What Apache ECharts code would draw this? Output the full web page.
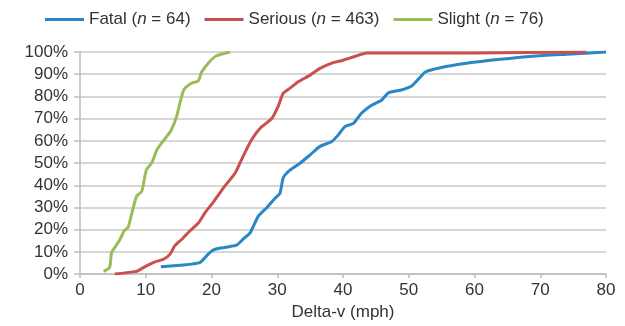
<!DOCTYPE html>
<html>
<head>
<meta charset="utf-8">
<script src="https://cdn.jsdelivr.net/npm/echarts@6/dist/echarts.min.js"></script>
<style>html,body{margin:0;padding:0;background:#fff;}#c{width:625px;height:326px;}</style>
</head>
<body>
<div id="c"></div>
<script>
var seriesNames = ['Fatal', 'Serious', 'Slight'];
var seriesCounts = [64, 463, 76];
var xTicks = [0, 10, 20, 30, 40, 50, 60, 70, 80];
var yTicks = [0, 10, 20, 30, 40, 50, 60, 70, 80, 90, 100];

var fatalData = [
  [12.3, 3.3], [15.2, 4.0], [18.2, 5.2], [19.5, 9.0], [20.4, 11.0], [22.0, 12.0],
  [23.8, 13.0], [24.8, 15.7], [25.9, 18.7], [27.1, 26.0], [28.4, 29.9], [29.7, 34.3],
  [30.4, 36.3], [30.9, 43.3], [31.7, 46.3], [33.5, 50.0], [35.0, 53.7], [36.5, 57.5],
  [38.3, 59.7], [39.3, 62.7], [40.3, 66.4], [41.6, 67.9], [42.8, 72.4], [44.4, 76.1],
  [45.9, 78.4], [46.9, 81.6], [48.7, 82.8], [50.4, 84.6], [51.7, 88.5], [52.5, 91.0],
  [54.8, 92.9], [58.8, 94.9], [63.9, 96.7], [68.9, 98.1], [74.0, 99.0], [80.0, 100.0]
];
var seriousData = [
  [5.3, 0.0], [8.1, 1.0], [8.8, 1.5], [10.1, 3.7], [11.4, 5.5], [12.7, 6.7],
  [13.7, 9.0], [14.4, 12.7], [15.5, 15.7], [16.7, 19.4], [18.0, 23.0], [19.0, 27.6],
  [20.3, 32.5], [22.0, 39.5], [23.6, 45.5], [24.8, 53.0], [26.1, 60.5], [27.4, 65.7],
  [29.2, 70.2], [30.2, 76.0], [30.9, 81.4], [31.9, 83.6], [33.2, 86.6], [35.0, 89.6],
  [36.5, 92.6], [38.3, 95.0], [40.0, 96.3], [41.8, 98.0], [43.6, 99.5], [60.0, 99.6],
  [77.0, 100.0]
];
var slightData = [
  [3.6, 1.2], [4.5, 3.0], [4.8, 9.7], [5.3, 12.0], [6.1, 15.7], [6.7, 19.4],
  [7.3, 20.9], [7.9, 27.6], [8.6, 35.0], [9.4, 37.3], [10.1, 47.0], [10.9, 50.0],
  [11.7, 56.0], [12.4, 59.0], [13.2, 62.0], [13.9, 65.0], [14.7, 71.0], [15.2, 77.0],
  [15.8, 83.0], [17.0, 86.0], [18.0, 87.0], [18.5, 91.0], [19.6, 95.3], [20.7, 98.2],
  [22.8, 100.0]
];
var seriesData = [fatalData, seriousData, slightData];
var colors = ['#2a87c6', '#c9504f', '#9bbb59'];

var chart = echarts.init(document.getElementById('c'), null, {renderer: 'canvas'});
var font = 'Liberation Sans, Arial, sans-serif';
chart.setOption({
  animation: false,
  grid: {left: 80, right: 19, top: 52, bottom: 51, containLabel: false},
  legend: {
    top: 6,
    left: 40,
    icon: 'rect',
    itemWidth: 39,
    itemHeight: 3,
    itemGap: 14,
    data: seriesNames,
    formatter: function (name) {
      var i = seriesNames.indexOf(name);
      return name + ' ({i|n} = ' + seriesCounts[i] + ')';
    },
    textStyle: {
      fontFamily: font, fontSize: 17, color: '#333',
      rich: {i: {fontFamily: font, fontSize: 17, fontStyle: 'italic', color: '#333'}}
    }
  },
  xAxis: {
    type: 'value', min: xTicks[0], max: xTicks[xTicks.length - 1], interval: 10,
    name: 'Delta-v (mph)', nameLocation: 'middle', nameGap: 27,
    nameTextStyle: {fontFamily: font, fontSize: 17, color: '#333'},
    axisLine: {show: true, lineStyle: {color: '#bdbdbd', width: 1.5}},
    axisTick: {show: true, length: 4, lineStyle: {color: '#bdbdbd', width: 1.5}},
    axisLabel: {fontFamily: font, fontSize: 17, color: '#333', margin: 8},
    splitLine: {show: false}
  },
  yAxis: {
    type: 'value', min: yTicks[0], max: yTicks[yTicks.length - 1], interval: 10,
    axisLine: {show: true, lineStyle: {color: '#bdbdbd', width: 1.5}},
    axisTick: {show: true, length: 6, lineStyle: {color: '#bdbdbd', width: 1.5}},
    axisLabel: {fontFamily: font, fontSize: 17, color: '#333', margin: 12, formatter: '{value}%'},
    splitLine: {show: true, lineStyle: {color: '#c8c8c8', width: 1.5}}
  },
  series: seriesNames.map(function (n, i) {
    return {
      name: n, type: 'line', data: seriesData[i], showSymbol: false, symbol: 'none',
      smooth: 0.2,
      lineStyle: {color: colors[i], width: 3}, itemStyle: {color: colors[i]}
    };
  })
});
</script>
</body>
</html>
